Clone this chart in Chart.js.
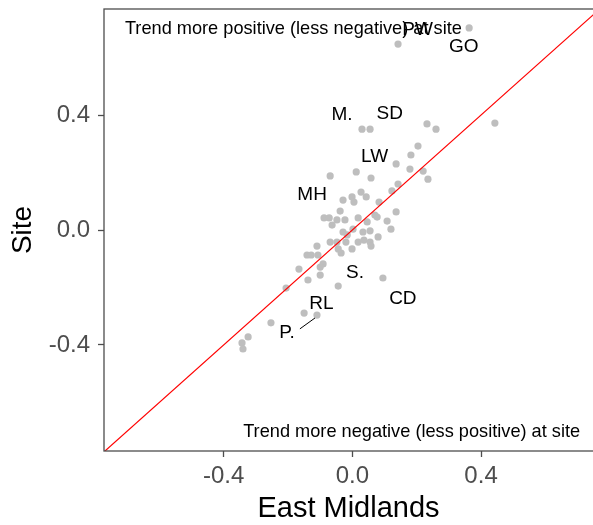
<!DOCTYPE html>
<html>
<head>
<meta charset="utf-8">
<script src="https://cdn.jsdelivr.net/npm/chart.js@4.4.0/dist/chart.umd.min.js"></script>
<style>
html,body{margin:0;padding:0;background:#fff}
#wrap{width:593px;height:525px;position:relative}
</style>
</head>
<body>
<div id="wrap"><canvas id="c"></canvas></div>
<script>
// site trend vs East Midlands trend
const eastMid=[0.363,0.142,0.030,0.055,0.232,0.260,0.443,0.204,0.182,0.136,0.179,0.220,0.235,0.012,-0.069,0.058,0.142,0.123,0.027,0.043,-0.001,-0.029,0.005,0.083,0.136,-0.038,0.070,0.077,-0.088,-0.072,-0.048,-0.023,0.018,0.046,0.108,-0.063,-0.029,0.002,0.033,0.055,0.120,0.080,-0.069,-0.048,-0.020,0.018,0.036,0.055,-0.110,-0.044,-0.035,-0.001,0.058,-0.141,-0.128,-0.107,-0.091,-0.100,-0.166,-0.138,-0.100,-0.206,-0.044,0.095,-0.150,-0.110,-0.253,-0.324,-0.343,-0.340,-0.016]
const site=[0.703,0.647,0.351,0.351,0.369,0.351,0.372,0.292,0.261,0.230,0.212,0.205,0.177,0.202,0.188,0.181,0.160,0.136,0.132,0.115,0.115,0.104,0.097,0.097,0.063,0.066,0.052,0.045,0.042,0.042,0.035,0.035,0.042,0.028,0.031,0.017,-0.007,0.003,-0.007,-0.003,0.003,-0.024,-0.042,-0.042,-0.042,-0.042,-0.035,-0.042,-0.056,-0.066,-0.080,-0.066,-0.056,-0.087,-0.087,-0.087,-0.118,-0.129,-0.136,-0.174,-0.157,-0.202,-0.195,-0.167,-0.289,-0.296,-0.323,-0.372,-0.393,-0.414,-0.017]

// y = x reference line
const refX=[-1,1]
const refY=[-1,1]

// point labels (text centres)
const labelNames=["PW","GO","M.","SD","LW","MH","S.","CD","RL","P."]
const labelX=[0.203,0.346,-0.032,0.116,0.069,-0.125,0.008,0.157,-0.096,-0.203]
const labelY=[0.697,0.636,0.400,0.404,0.255,0.121,-0.149,-0.238,-0.256,-0.359]
const segX=[-0.163,-0.116]
const segY=[-0.344,-0.306]

const noteText=["Trend more positive (less negative) at site","Trend more negative (less positive) at site"]
const noteX=[-0.707,0.708]
const noteY=[0.699,-0.703]
const noteAlign=["left","right"]

const xTicks=[-0.4,0,0.4]
const yTicks=[-0.4,0,0.4]

const FONT="'Liberation Sans', Arial, sans-serif"

const annotate={
id:"annotate",
afterDatasetsDraw(chart){
const ctx=chart.ctx
const xs=chart.scales.x, ys=chart.scales.y
const a=chart.chartArea
ctx.save()
ctx.fillStyle="#000"
ctx.textBaseline="middle"
ctx.textAlign="center"
ctx.font="19px "+FONT
labelNames.forEach((t,i)=>{
ctx.fillText(t,xs.getPixelForValue(labelX[i]),ys.getPixelForValue(labelY[i]))
})
ctx.strokeStyle="#000"
ctx.lineWidth=1
ctx.beginPath()
ctx.moveTo(xs.getPixelForValue(segX[0]),ys.getPixelForValue(segY[0]))
ctx.lineTo(xs.getPixelForValue(segX[1]),ys.getPixelForValue(segY[1]))
ctx.stroke()
ctx.font="18.2px "+FONT
noteText.forEach((t,i)=>{
ctx.textAlign=noteAlign[i]
ctx.fillText(t,xs.getPixelForValue(noteX[i]),ys.getPixelForValue(noteY[i]))
})
// panel border
ctx.strokeStyle="#4d4d4d"
ctx.lineWidth=1.3
ctx.strokeRect(a.left,a.top,a.right-a.left+2,a.bottom-a.top)
ctx.restore()
}
}

new Chart(document.getElementById("c"),{
type:"scatter",
data:{
datasets:[
{
data:eastMid.map((v,i)=>({x:v,y:site[i]})),
backgroundColor:"#bebebe",
borderWidth:0,
pointRadius:3.6,
order:2
},
{
type:"line",
data:refX.map((v,i)=>({x:v,y:refY[i]})),
borderColor:"#ff0000",
borderWidth:1.2,
pointRadius:0,
fill:false,
order:1
}
]
},
options:{
responsive:true,
maintainAspectRatio:false,
animation:false,
events:[],
layout:{autoPadding:false,padding:{top:9,right:0,left:0,bottom:0}},
plugins:{legend:{display:false},tooltip:{enabled:false}},
scales:{
x:{
type:"linear",
min:-0.772,max:0.748,
afterBuildTicks(s){s.ticks=xTicks.map(v=>({value:v}))},
afterFit(s){s.height=74;s.paddingLeft=0;s.paddingRight=0},
grid:{drawOnChartArea:false,drawTicks:true,tickLength:6,tickColor:"#4d4d4d",tickWidth:1.3},
border:{display:false},
ticks:{color:"#4d4d4d",font:{size:24,family:FONT},padding:5,maxRotation:0,
callback:v=>v.toFixed(1)},
title:{display:true,text:"East Midlands",color:"#000",font:{size:29,family:FONT},padding:{top:0,bottom:-1}}
},
y:{
type:"linear",
min:-0.769,max:0.769,
afterBuildTicks(s){s.ticks=yTicks.map(v=>({value:v}))},
afterFit(s){s.width=104;s.paddingTop=0;s.paddingBottom=0},
grid:{drawOnChartArea:false,drawTicks:true,tickLength:6,tickColor:"#4d4d4d",tickWidth:1.3},
border:{display:false},
ticks:{color:"#4d4d4d",font:{size:24,family:FONT},padding:8,
callback:v=>v.toFixed(1)},
title:{display:true,text:"Site",color:"#000",font:{size:28,family:FONT},padding:{top:6,bottom:0}}
}
}
},
plugins:[annotate]
})
</script>
</body>
</html>
